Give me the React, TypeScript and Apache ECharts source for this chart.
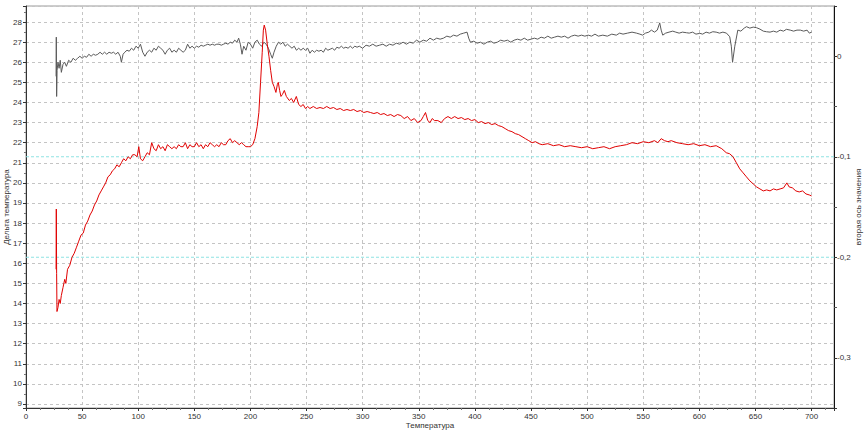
import React, { useEffect, useRef } from "react";
import * as echarts from "echarts";

const xAxisName = "Температура";
const leftAxisName = "Дельта температура";
const rightAxisName = "вторая ось значения";
const rightMarkValues = [-0.1, -0.2];
const xRange = [0, 720];

const redSeries: [number, number][] = [
  [26.8, 15.7], [27.0, 18.7], [27.3, 15.5], [27.6, 13.6], [28.5, 13.8], [29.5, 14.2], [30.5, 14.0], [31.5, 14.4],
  [33, 14.8], [34.5, 15.2], [35.5, 15.0], [37, 15.7], [39, 15.9], [41, 16.3], [43, 16.5], [45, 16.8], [47, 17.1],
  [49, 17.4], [51, 17.5], [53, 17.9], [55, 18.1], [57, 18.4], [59, 18.6], [61, 18.9], [63, 19.1], [65, 19.4],
  [67, 19.6], [69, 19.8], [71, 20.0], [73, 20.3], [75, 20.4], [77, 20.6], [79, 20.7], [81, 20.9], [83, 20.8],
  [85, 21.0], [87, 21.2], [89, 21.1], [91, 21.3], [93, 21.2], [95, 21.4], [97, 21.4], [99, 21.3], [100.5, 21.8],
  [102, 21.2], [104, 21.1], [106, 21.3], [108, 21.5], [110, 21.4], [112, 22.0], [114, 21.7], [116, 21.6],
  [118, 21.9], [120, 21.7], [122, 21.8], [124, 21.6], [126, 21.9], [128, 21.8], [130, 21.7], [132, 21.8],
  [134, 21.7], [136, 21.9], [138, 21.8], [140, 21.8], [142, 22.0], [144, 21.7], [146, 21.9], [148, 21.8],
  [150, 21.8], [152, 22.0], [154, 21.8], [156, 21.9], [158, 21.7], [160, 21.9], [162, 21.8], [164, 22.0],
  [166, 21.9], [168, 21.8], [170, 21.9], [172, 21.8], [174, 22.0], [176, 21.9], [178, 21.9], [180, 22.1],
  [182, 22.2], [184, 22.0], [186, 22.1], [188, 22.0], [190, 21.9], [192, 22.0], [194, 21.9], [196, 21.8],
  [198, 21.8], [200, 21.8], [202, 21.9], [204, 22.2], [206, 22.8], [207.5, 23.5], [209, 25.0], [210.5, 26.5],
  [211.5, 27.6], [212.3, 27.85], [213.5, 27.6], [215, 26.9], [216.5, 26.3], [218, 25.6], [219.5, 25.0],
  [221, 24.8], [222.7, 24.5], [224, 24.9], [224.8, 25.0], [226, 24.6], [227.2, 24.3], [228.5, 24.4],
  [230.2, 24.6], [232, 24.3], [234.6, 24.1], [236.5, 24.2], [238.5, 24.0], [240.9, 24.3], [243, 23.9],
  [245, 23.8], [247, 23.9], [249, 23.7], [251, 23.8], [253, 23.7], [256, 23.8], [259, 23.7], [262, 23.75],
  [265, 23.7], [268, 23.8], [271, 23.7], [274, 23.75], [277, 23.65], [280, 23.7], [283, 23.6], [286, 23.65],
  [289, 23.6], [292, 23.65], [295, 23.55], [298, 23.6], [301, 23.5], [304, 23.55], [307, 23.5], [310, 23.45],
  [313, 23.5], [316, 23.4], [319, 23.45], [322, 23.35], [325, 23.4], [328, 23.3], [331, 23.4], [334, 23.35],
  [337, 23.2], [340, 23.3], [343, 23.1], [346, 23.2], [349, 23.0], [352, 23.1], [354, 23.3], [356, 23.5],
  [358, 23.1], [360, 23.0], [362, 23.2], [364, 23.1], [367, 23.1], [370, 23.0], [373, 23.2], [376, 23.3],
  [379, 23.2], [382, 23.3], [385, 23.2], [388, 23.25], [391, 23.15], [394, 23.2], [397, 23.1], [400, 23.15],
  [403, 23.0], [406, 23.05], [409, 22.95], [412, 23.0], [415, 22.9], [418, 22.95], [421, 22.85], [424, 22.8],
  [427, 22.7], [430, 22.6], [433, 22.55], [436, 22.45], [439, 22.4], [442, 22.3], [445, 22.2], [448, 22.1],
  [451, 22.0], [454, 22.05], [457, 21.95], [460, 21.9], [465, 21.95], [470, 21.85], [475, 21.9], [480, 21.8],
  [485, 21.85], [490, 21.8], [495, 21.75], [500, 21.8], [505, 21.7], [510, 21.75], [515, 21.8], [520, 21.7],
  [525, 21.8], [530, 21.85], [535, 21.9], [540, 22.0], [545, 21.95], [550, 22.05], [555, 22.0], [560, 22.1],
  [563, 22.0], [566, 22.2], [569, 22.1], [572, 22.05], [575, 22.1], [580, 22.0], [585, 21.95], [590, 21.9],
  [595, 21.95], [600, 21.85], [605, 21.9], [610, 21.8], [615, 21.85], [620, 21.7], [624, 21.5], [627, 21.45],
  [630, 21.3], [633, 21.0], [636, 20.7], [639, 20.5], [642, 20.3], [645, 20.1], [648, 19.95], [651, 19.8],
  [654, 19.7], [657, 19.6], [660, 19.65], [663, 19.6], [666, 19.7], [669, 19.65], [672, 19.7], [675, 19.75],
  [678, 20.0], [680, 19.8], [683, 19.75], [686, 19.6], [689, 19.55], [692, 19.6], [695, 19.45], [698, 19.4],
  [700, 19.35],
];

const greySeries: [number, number][] = [
  [26.8, 25.3], [27.0, 27.25], [27.3, 24.3], [27.7, 25.6], [28.5, 26.0], [29.5, 25.7], [30.5, 26.1], [31.5, 25.5],
  [33, 25.9], [34.5, 26.0], [36, 25.8], [38, 26.1], [40, 26.0], [42, 26.2], [44, 26.1], [46, 26.2], [48, 26.3],
  [50, 26.2], [52, 26.3], [54, 26.25], [56, 26.4], [58, 26.3], [60, 26.4], [62, 26.35], [64, 26.4], [66, 26.5],
  [68, 26.4], [70, 26.5], [72, 26.4], [74, 26.5], [76, 26.45], [78, 26.5], [80, 26.4], [82, 26.5], [84, 26.3],
  [85, 26.0], [86.5, 26.4], [88, 26.5], [90, 26.6], [92, 26.55], [94, 26.7], [96, 26.6], [98, 26.8], [100, 26.7],
  [102, 26.9], [104, 26.5], [106, 26.3], [108, 26.5], [110, 26.6], [112, 26.5], [114, 26.7], [116, 26.6],
  [118, 26.8], [120, 26.7], [122, 26.6], [124, 26.4], [126, 26.6], [128, 26.7], [130, 26.5], [132, 26.6],
  [134, 26.5], [136, 26.7], [138, 26.6], [140, 26.5], [142, 26.6], [144, 26.9], [146, 26.7], [148, 26.8],
  [150, 26.7], [152, 26.8], [154, 26.75], [156, 26.85], [158, 26.8], [160, 26.85], [162, 26.9], [164, 26.85],
  [166, 26.9], [168, 26.85], [170, 26.9], [172, 26.9], [174, 26.85], [176, 26.9], [178, 26.95], [180, 26.9],
  [182, 27.0], [184, 26.95], [186, 27.1], [188, 27.0], [189.5, 27.2], [191, 26.9], [192.5, 26.4], [194, 26.8],
  [196, 26.6], [198, 27.0], [200, 26.9], [202, 26.7], [204, 27.0], [206, 27.1], [208, 26.9], [210, 26.8],
  [212, 27.0], [214, 26.9], [216, 26.7], [218, 26.4], [219.5, 26.2], [221, 26.5], [223, 26.8], [225, 27.0],
  [227, 26.9], [229, 27.0], [231, 26.8], [233, 26.9], [235, 26.8], [237, 26.7], [239, 26.8], [241, 26.6],
  [243, 26.7], [245, 26.6], [247, 26.7], [249, 26.6], [251, 26.7], [253, 26.45], [255, 26.6], [257, 26.5],
  [259, 26.6], [261, 26.55], [263, 26.6], [265, 26.5], [267, 26.7], [269, 26.6], [271, 26.65], [273, 26.7],
  [275, 26.6], [277, 26.75], [279, 26.7], [281, 26.8], [283, 26.7], [285, 26.75], [287, 26.7], [289, 26.8],
  [291, 26.7], [293, 26.8], [295, 26.75], [297, 26.8], [300, 26.7], [303, 26.85], [306, 26.8], [309, 26.9],
  [312, 26.8], [315, 26.85], [318, 26.9], [321, 26.8], [324, 26.9], [327, 26.85], [330, 26.95], [333, 26.9],
  [336, 27.0], [339, 26.9], [342, 27.0], [345, 26.95], [348, 27.1], [351, 27.0], [354, 27.1], [357, 27.05],
  [360, 27.2], [363, 27.1], [366, 27.2], [369, 27.15], [372, 27.2], [375, 27.3], [378, 27.25], [381, 27.35],
  [384, 27.3], [387, 27.4], [390, 27.45], [393, 27.5], [394.5, 27.2], [396, 27.0], [399, 27.05], [402, 26.95],
  [405, 27.0], [408, 26.9], [411, 27.0], [414, 27.05], [417, 26.95], [420, 27.0], [423, 27.1], [426, 27.05],
  [429, 27.1], [432, 27.0], [435, 27.1], [438, 27.15], [441, 27.1], [444, 27.2], [447, 27.1], [450, 27.15],
  [453, 27.2], [456, 27.15], [459, 27.25], [462, 27.2], [465, 27.3], [468, 27.2], [471, 27.25], [474, 27.3],
  [477, 27.25], [480, 27.3], [483, 27.2], [486, 27.3], [489, 27.35], [492, 27.3], [495, 27.35], [498, 27.3],
  [501, 27.35], [504, 27.3], [507, 27.4], [510, 27.3], [514, 27.35], [518, 27.3], [522, 27.4], [526, 27.35],
  [529, 27.45], [532, 27.4], [536, 27.45], [540, 27.5], [544, 27.45], [547, 27.4], [549.5, 27.35], [552, 27.45],
  [555, 27.5], [557.3, 27.6], [560, 27.5], [562.5, 27.6], [564.7, 27.96], [566, 27.6], [567.4, 27.35],
  [570, 27.45], [573, 27.5], [576.3, 27.55], [579, 27.5], [582, 27.45], [585, 27.5], [588.5, 27.47],
  [591, 27.45], [594, 27.5], [597, 27.4], [600.4, 27.44], [603, 27.4], [606, 27.5], [609, 27.45], [612, 27.52],
  [615, 27.5], [618, 27.45], [621, 27.5], [624.2, 27.45], [627.1, 27.27], [628.5, 26.8], [629.6, 26.0],
  [631.6, 26.8], [634.3, 27.6], [637, 27.55], [640, 27.7], [642, 27.77], [645, 27.7], [648, 27.75],
  [651, 27.72], [654, 27.65], [657, 27.55], [659.8, 27.52], [663, 27.5], [666, 27.55], [669, 27.5],
  [672, 27.6], [675, 27.55], [677.6, 27.64], [681, 27.6], [684, 27.55], [687, 27.6], [690, 27.6],
  [693, 27.55], [696, 27.6], [698, 27.45], [700, 27.5],
];

const FONT = "Liberation Sans, Arial, sans-serif";
const gridLine = { show: true, lineStyle: { color: "#c4c4c4", type: [3, 3] as any, width: 1 } };

export default function App() {
  const ref = useRef<HTMLDivElement>(null);
  useEffect(() => {
    if (!ref.current) return;
    const chart = echarts.init(ref.current, undefined, { renderer: "svg" });
    chart.setOption({
      animation: false,
      backgroundColor: "#ffffff",
      grid: {
        left: 26,
        right: 33,
        top: 6,
        bottom: 26,
        containLabel: false,
        outerBoundsMode: "none",
        show: true,
        borderColor: "#9a9a9a",
        borderWidth: 1,
      },
      xAxis: {
        type: "value",
        min: xRange[0],
        max: xRange[1],
        interval: 50,
        name: xAxisName,
        nameLocation: "middle",
        nameGap: 13,
        nameMoveOverlap: false,
        nameTextStyle: { fontFamily: FONT, fontSize: 8, color: "#333" },
        axisLine: { show: true, onZero: false, lineStyle: { color: "#333", width: 1 } },
        axisTick: { show: true, length: 3, lineStyle: { color: "#333" } },
        minorTick: { show: true, splitNumber: 4, length: 2, lineStyle: { color: "#777" } },
        axisLabel: { fontFamily: FONT, fontSize: 8, color: "#333", margin: 4, showMaxLabel: false },
        splitLine: gridLine,
      },
      yAxis: [
        {
          type: "value",
          min: 8.8,
          max: 28.8,
          splitNumber: 20,
          name: leftAxisName,
          nameLocation: "middle",
          nameRotate: 90,
          nameGap: 16,
          nameMoveOverlap: false,
          nameTextStyle: { fontFamily: FONT, fontSize: 8, color: "#333" },
          axisLine: { show: true, onZero: false, lineStyle: { color: "#333", width: 1 } },
          axisTick: { show: true, length: 3, lineStyle: { color: "#333" } },
          minorTick: { show: true, splitNumber: 2, length: 2, lineStyle: { color: "#777" } },
          axisLabel: { fontFamily: FONT, fontSize: 8, color: "#333", margin: 4, showMinLabel: false, showMaxLabel: false },
          splitLine: gridLine,
        },
        {
          type: "value",
          min: -0.35,
          max: 0.05,
          splitNumber: 4,
          position: "right",
          name: rightAxisName,
          nameLocation: "middle",
          nameRotate: 90,
          nameGap: 20,
          nameMoveOverlap: false,
          nameTextStyle: { fontFamily: FONT, fontSize: 8, color: "#333" },
          axisLine: { show: true, onZero: false, lineStyle: { color: "#111", width: 1 } },
          axisTick: { show: true, length: 3, lineStyle: { color: "#333" } },
          minorTick: { show: true, splitNumber: 2, length: 3, lineStyle: { color: "#555" } },
          axisLabel: {
            fontFamily: FONT,
            fontSize: 8,
            color: "#333",
            margin: 3,
            showMinLabel: false,
            showMaxLabel: false,
            formatter: (v: number) => (Math.abs(v) < 1e-9 ? "0" : v.toFixed(1).replace(".", ",")),
          },
          splitLine: { show: false },
        },
      ],
      series: [
        ...rightMarkValues.map((v) => ({
          type: "line",
          yAxisIndex: 1,
          data: [[xRange[0], v], [xRange[1], v]],
          silent: true,
          showSymbol: false,
          symbol: "none",
          lineStyle: { color: "#8fe3e3", type: [3, 2] as any, width: 1 },
          z: 1,
        })),
        {
          type: "line",
          data: greySeries,
          showSymbol: false,
          symbol: "none",
          lineStyle: { color: "#5a5a5a", width: 1 },
          z: 3,
        },
        {
          type: "line",
          data: redSeries,
          showSymbol: false,
          symbol: "none",
          lineStyle: { color: "#e00000", width: 1 },
          z: 4,
        },
      ],
    });
    return () => chart.dispose();
  }, []);
  return (
    <div
      ref={ref}
      style={{ position: "fixed", left: 0, top: 0, width: 867, height: 434, background: "#fff" }}
    />
  );
}
